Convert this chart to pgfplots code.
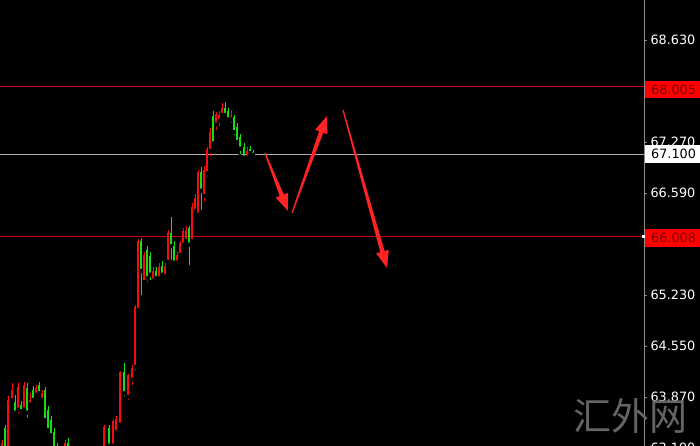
\documentclass[border=0pt]{standalone}
\usepackage{pgfplots}
\pgfplotsset{compat=1.18}
\usepackage{pgfplotstable}
\usepackage{fontspec}
\setmainfont{DejaVu Sans}
\newfontfamily\cjk{Noto Sans CJK SC}
\usetikzlibrary{calc}

\definecolor{upred}{RGB}{255,10,10}
\definecolor{dngreen}{RGB}{20,225,20}
\definecolor{levelred}{RGB}{210,0,0}
\definecolor{levelgray}{RGB}{175,175,175}
\definecolor{axisgray}{RGB}{140,140,140}
\definecolor{boxred}{RGB}{255,0,0}
\definecolor{boxtext}{RGB}{120,0,0}
\definecolor{arrowred}{RGB}{255,35,35}
\definecolor{wmgray}{RGB}{100,100,100}

% candles: x position, low, high, open, close
\pgfplotstableread{
x   lo     hi     o      c
2   62.95  63.30  63.05  63.25
8   63.10  63.88  63.15  63.83
12  63.78  64.06  63.83  63.96
18  63.62  64.05  63.70  64.00
24  63.65  64.07  63.70  64.03
30  63.72  63.92  63.77  63.83
36  63.85  64.03  63.90  63.99
42  63.78  63.96  63.83  63.92
65  62.90  63.30  62.95  63.25
80  62.70  62.95  62.85  62.90
88  62.70  62.90  62.80  62.85
96  62.75  63.00  62.80  62.95
100 62.85  63.10  62.95  63.05
104 63.00  63.50  63.05  63.47
113 63.18  63.58  63.22  63.55
116 63.35  63.62  63.40  63.58
120 63.45  64.22  63.50  64.20
128 63.80  64.18  63.87  64.16
132 64.00  64.30  64.10  64.25
135 64.20  65.10  64.27  65.07
138 65.00  65.98  65.03  65.95
144 65.35  65.80  65.40  65.76
153 65.38  65.60  65.42  65.55
159 65.42  65.65  65.45  65.60
165 65.44  65.66  65.48  65.62
168 65.62  66.10  65.67  66.05
177 65.62  65.80  65.66  65.76
180 65.70  65.95  65.76  65.92
183 65.86  66.12  65.90  66.08
186 65.90  66.15  65.95  66.10
192 65.90  66.45  65.95  66.40
195 66.30  66.57  66.35  66.52
198 66.25  66.90  66.30  66.87
204 66.45  66.95  66.55  66.90
207 66.78  67.20  66.85  67.17
210 67.05  67.45  67.15  67.40
216 67.40  67.67  67.50  67.64
219 67.45  67.68  67.55  67.63
222 67.58  67.79  67.63  67.72
231 67.50  67.70  67.57  67.62
247 67.02  67.20  67.06  67.15
}\upcandles

\pgfplotstableread{
x   lo     hi     o      c
5   63.10  63.50  63.45  63.15
15  63.62  63.90  63.80  63.66
21  63.64  63.82  63.76  63.68
27  63.57  64.05  63.99  63.66
33  63.80  64.02  63.96  63.83
39  63.88  64.07  64.03  63.92
45  63.52  64.00  63.96  63.56
48  63.38  63.75  63.70  63.43
51  63.30  63.62  63.56  63.36
54  63.10  63.45  63.40  63.15
57  62.95  63.25  63.20  63.00
61  62.85  63.10  63.00  62.92
68  63.05  63.32  63.25  63.10
72  62.90  63.18  63.10  62.95
76  62.80  63.05  62.95  62.85
84  62.75  63.00  62.90  62.80
92  62.75  62.95  62.85  62.80
109 63.15  63.50  63.45  63.22
124 63.85  64.32  64.20  63.92
141 65.20  65.99  65.95  65.55
147 65.38  65.88  65.83  65.45
150 65.40  65.80  65.75  65.50
156 65.40  65.60  65.55  65.45
162 65.45  65.68  65.62  65.50
171 65.67  66.27  66.06  65.88
174 65.60  65.95  65.88  65.66
189 65.60  66.15  66.12  65.90
201 66.34  66.93  66.87  66.62
213 67.23  67.68  67.62  67.25
225 67.58  67.80  67.72  67.63
228 67.52  67.72  67.68  67.57
234 67.33  67.63  67.60  67.40
237 67.22  67.52  67.47  67.27
240 67.08  67.38  67.33  67.18
244 67.03  67.25  67.20  67.06
250 67.08  67.22  67.18  67.12
253 67.08  67.16  67.13  67.10
}\dncandles

% tapered hand-drawn style arrow, pixel coordinates (tail x,y ; tip x,y)
\newcommand{\sketcharrow}[4]{%
  \coordinate (A) at (#1,#2);
  \coordinate (B) at (#3,#4);
  \coordinate (H) at ($(B)!17pt!(A)$);
  \fill[arrowred] ($(A)!0.6pt!90:(B)$) -- ($(H)!2.2pt!90:(B)$)
    -- ($(H)!6.5pt!90:(B)$) -- (B) -- ($(H)!6.5pt!-90:(B)$)
    -- ($(H)!2.2pt!-90:(B)$) -- ($(A)!0.6pt!-90:(B)$) -- cycle;
}

\begin{document}
\begin{tikzpicture}
\useasboundingbox (0,0) rectangle (700pt,446pt);
\clip (0,0) rectangle (700pt,446pt);
\fill[black] (0,0) rectangle (700pt,446pt);

\begin{axis}[
  at={(0pt,446pt)}, anchor=north west,
  width=644pt, height=454.75pt, scale only axis,
  xmin=0, xmax=644,
  ymin=63.1, ymax=69.1633,
  axis x line=none,
  axis y line*=right,
  axis line style={axisgray, line width=0.8pt},
  xtick=\empty,
  ytick={63.19,63.87,64.55,65.23,66.59,67.27,68.63},
  tick align=outside,
  major tick length=3pt,
  tick style={axisgray, line width=0.8pt},
  yticklabel style={text=white, font=\fontsize{12.8}{14}\selectfont,
    /pgf/number format/.cd, fixed, fixed zerofill, precision=3,
    assume math mode=true},
  clip=true,
]
% price levels
\addplot[levelred, line width=0.8pt, forget plot] coordinates {(0,68.005) (644,68.005)};
\addplot[levelred, line width=0.8pt, forget plot] coordinates {(0,66.008) (644,66.008)};
\addplot[levelgray, line width=0.8pt, forget plot] coordinates {(0,67.100) (644,67.100)};

% up candles: wicks and bodies
\addplot[only marks, mark=none, forget plot,
  error bars/.cd, y dir=plus, y explicit, error mark=none,
  error bar style={upred, line width=0.9pt}]
  table[x=x, y=lo, y error plus expr=\thisrow{hi}-\thisrow{lo}] {\upcandles};
\addplot[only marks, mark=none, forget plot,
  error bars/.cd, y dir=plus, y explicit, error mark=none,
  error bar style={upred, line width=2.8pt}]
  table[x=x, y=o, y error plus expr=\thisrow{c}-\thisrow{o}] {\upcandles};

% down candles
\addplot[only marks, mark=none, forget plot,
  error bars/.cd, y dir=plus, y explicit, error mark=none,
  error bar style={dngreen, line width=0.9pt}]
  table[x=x, y=lo, y error plus expr=\thisrow{hi}-\thisrow{lo}] {\dncandles};
\addplot[only marks, mark=none, forget plot,
  error bars/.cd, y dir=plus, y explicit, error mark=none,
  error bar style={dngreen, line width=2.8pt}]
  table[x=x, y=c, y error plus expr=\thisrow{o}-\thisrow{c}] {\dncandles};
\end{axis}

% annotations in pixel coordinates (origin top left)
\begin{scope}[x=1pt, y=-1pt, shift={(0pt,446pt)}]
  \sketcharrow{265}{153}{288}{211}
  \sketcharrow{292}{213}{327}{116}
  \sketcharrow{343}{110}{387}{268}

  \fill[boxred] (645,81) rectangle (700,98);
  \node[anchor=west, inner sep=0pt, text=boxtext, font=\fontsize{12.8}{14}\selectfont] at (651,89.5) {68.005};
  \fill[white] (645,145) rectangle (700,163);
  \node[anchor=west, inner sep=0pt, text=black, font=\fontsize{12.8}{14}\selectfont] at (651,154) {67.100};
  \fill[boxred] (645,229) rectangle (700,247);
  \node[anchor=west, inner sep=0pt, text=boxtext, font=\fontsize{12.8}{14}\selectfont] at (651,238) {66.008};
  \fill[white] (642,235) rectangle (645,238);

  \node[text=wmgray, font=\cjk\fontsize{38}{40}\selectfont] at (630,416) {汇外网};
\end{scope}
\end{tikzpicture}
\end{document}
